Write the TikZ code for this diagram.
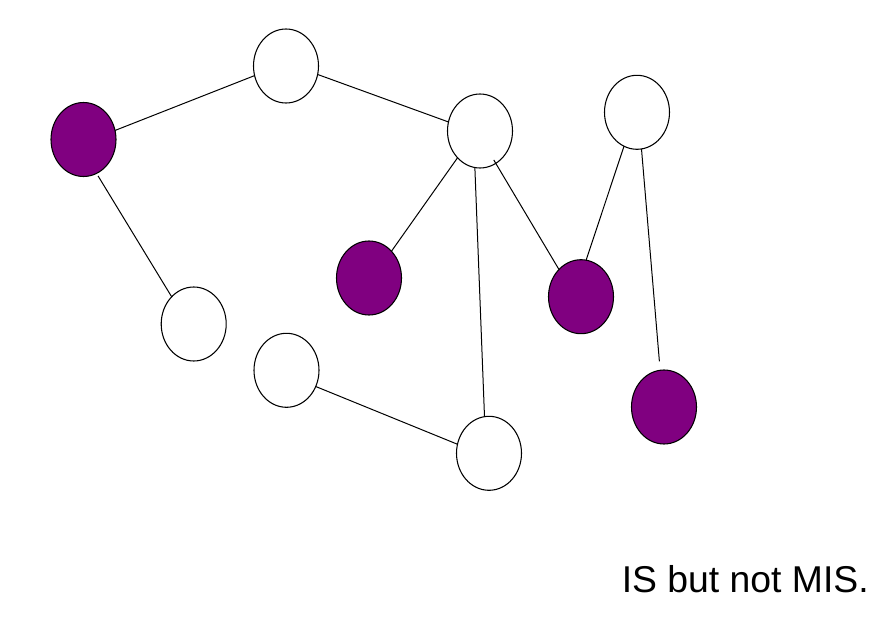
\documentclass[tikz,border=0pt]{standalone}
\usepackage{fontspec}
\setmainfont{Liberation Sans}
\usetikzlibrary{shapes.geometric}
\definecolor{nodepurple}{RGB}{128,0,128}
\tikzset{
  vtx/.style={ellipse, draw=black, line width=0.8pt, fill=white,
    minimum width=48.75pt, minimum height=55.5pt, inner sep=0pt, outer sep=0pt},
  vsel/.style={vtx, fill=nodepurple},
  edge/.style={draw=black, line width=0.75pt}
}
\begin{document}
\begin{tikzpicture}[x=0.75pt,y=-0.75pt]
\useasboundingbox (0,0) rectangle (893,635);
\node[vsel] (A) at (83.5,139.5) {};
\node[vtx]  (B) at (286,66) {};
\node[vtx]  (C) at (480,131) {};
\node[vtx]  (D) at (637,112.3) {};
\node[vsel] (E) at (369,278) {};
\node[vsel] (F) at (581,296.7) {};
\node[vtx]  (G) at (193.7,324) {};
\node[vtx]  (H) at (286.5,370.3) {};
\node[vtx]  (I) at (489,453.3) {};
\node[vsel] (J) at (664,407) {};
\path[edge] (A.16) -- (B.197);
\path[edge] (B.-15) -- (C.164);
\path[edge, shorten <=2.25pt] (A.291) -- (G.129);
\path[edge] (C.230) -- (E.50);
\path[edge] (C.262) -- (I.97);
\path[edge, shorten <=-3pt] (C.296) -- (F.129);
\path[edge] (D.249) -- (F.82);
\path[edge, shorten >=6.75pt] (D.277) -- (J.96);
\path[edge] (H.331) -- (I.164);
\node[anchor=base west, inner sep=0pt, font=\fontsize{28}{34}\selectfont] (T) at (621.5,592) {IS but not MIS.};
\end{tikzpicture}
\end{document}
